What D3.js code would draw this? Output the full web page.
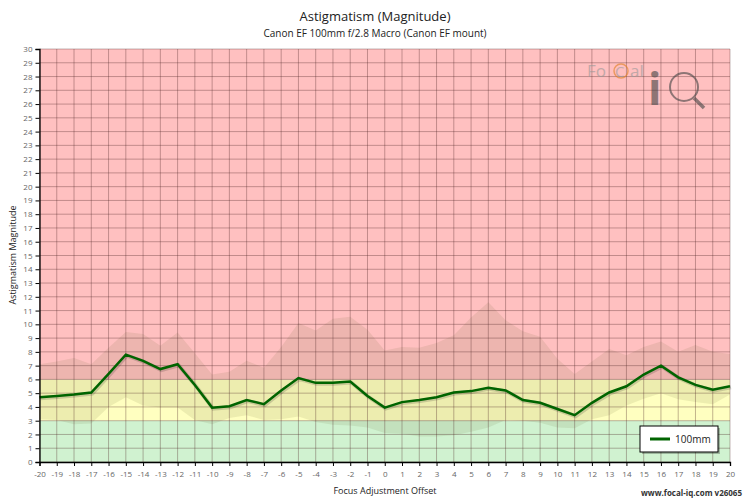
<!DOCTYPE html>
<html><head><meta charset="utf-8">
<script src="https://cdn.jsdelivr.net/npm/d3@7"></script>
<style>body{margin:0;background:#fff}text{font-family:"Open Sans",sans-serif}</style>
</head><body><svg id="c" width="750" height="500"></svg>
<script>
const offsets = d3.range(-20, 21);
const magnitude = [4.7,4.8,4.9,5.05,6.4,7.8,7.35,6.75,7.1,5.6,3.95,4.05,4.5,4.2,5.2,6.1,5.75,5.75,5.85,4.8,3.95,4.35,4.5,4.7,5.05,5.15,5.4,5.2,4.5,4.3,3.85,3.4,4.3,5.05,5.5,6.35,7.0,6.15,5.6,5.25,5.5];
const upper = [7.1,7.3,7.55,7.1,8.3,9.45,9.3,8.45,9.4,7.9,6.35,6.55,7.35,6.85,8.35,10.1,9.55,10.4,10.55,9.6,8.1,8.35,8.3,8.65,9.2,10.5,11.6,10.3,9.5,9.1,7.5,6.4,7.3,8.2,7.75,8.35,8.75,8.0,8.5,8.0,7.85];
const lower = [3.1,3.05,2.75,2.8,4.0,4.7,4.1,3.95,3.95,3.05,2.75,3.2,3.4,3.05,3.1,3.3,2.9,2.7,2.65,2.5,2.1,2.05,1.85,1.85,1.95,2.2,2.5,3.05,3.0,2.85,2.5,2.45,3.1,3.4,4.1,4.6,5.0,4.55,4.35,4.2,4.9];
const zones = [{from:0,to:3,color:"#d0f2d0"},{from:3,to:6,color:"#ffffc0"},{from:6,to:30,color:"#ffc0c0"}];
const yTicks = d3.range(0, 31);

const svg = d3.select("#c");
const L=39.5, R=730, T=49, B=462;
const x = d3.scaleLinear().domain([-20,20]).range([L,R]);
const y = d3.scaleLinear().domain([0,30]).range([B,T]);

svg.selectAll(".z").data(zones).join("rect")
  .attr("x",L).attr("width",R-L).attr("y",d=>y(d.to)).attr("height",d=>y(d.from)-y(d.to)).attr("fill",d=>d.color);

const band = offsets.map((o,i)=>({o,u:upper[i],l:lower[i]}));
svg.append("path").datum(band)
  .attr("d",d3.area().x(d=>x(d.o)).y0(d=>y(d.l)).y1(d=>y(d.u)))
  .attr("fill","rgba(90,90,40,0.11)");

const g = svg.append("g");
g.selectAll(".v").data(offsets).join("line").attr("x1",d=>x(d)).attr("x2",d=>x(d)).attr("y1",T).attr("y2",B).attr("stroke","rgba(80,40,40,0.35)").attr("stroke-width",1);
g.selectAll(".h").data(yTicks).join("line").attr("y1",d=>y(d)).attr("y2",d=>y(d)).attr("x1",L).attr("x2",R).attr("stroke","rgba(80,40,40,0.35)").attr("stroke-width",1);

// logo
const lg = svg.append("g").attr("opacity",0.6);
lg.append("text").attr("x",587).attr("y",77).attr("font-size",17).attr("fill","#999").text("Fo");
lg.append("circle").attr("cx",621).attr("cy",71).attr("r",7).attr("fill","none").attr("stroke","#e08020").attr("stroke-width",1.5);
lg.append("text").attr("x",615).attr("y",77).attr("font-size",15).attr("fill","#999").text("C");
lg.append("text").attr("x",630).attr("y",77).attr("font-size",17).attr("fill","#999").text("al");
lg.append("text").attr("x",648).attr("y",105).attr("font-size",44).attr("font-family","DejaVu Serif").attr("font-weight","bold").attr("fill","#444").text("i");
lg.append("circle").attr("cx",684).attr("cy",87).attr("r",14).attr("fill","none").attr("stroke","#444").attr("stroke-width",2);
lg.append("line").attr("x1",694).attr("y1",98).attr("x2",704).attr("y2",108).attr("stroke","#444").attr("stroke-width",3.5);

const lineData = offsets.map((o,i)=>[o,magnitude[i]]);
const lineGen = d3.line().x(d=>x(d[0])).y(d=>y(d[1]));
svg.append("path").datum(lineData).attr("d",lineGen)
  .attr("fill","none").attr("stroke","rgba(0,0,0,0.15)").attr("stroke-width",4).attr("transform","translate(1,1)");
svg.append("path").datum(lineData).attr("d",lineGen)
  .attr("fill","none").attr("stroke","#006400").attr("stroke-width",2.5);

const xa = svg.append("g").attr("transform",`translate(0,${B})`).call(d3.axisBottom(x).tickValues(offsets).tickFormat(d=>String(d)).tickSize(4));
const ya = svg.append("g").attr("transform",`translate(${L},0)`).call(d3.axisLeft(y).tickValues(yTicks).tickFormat(d=>String(d)).tickSize(4));
[xa,ya].forEach(a=>{a.selectAll("text").attr("font-size",8).attr("fill","#666").style("font-family","Open Sans");a.select(".domain").attr("stroke","#000").attr("stroke-width",1.3);a.selectAll(".tick line").attr("stroke","#000");});
xa.selectAll("text").attr("dy","1.0em");

svg.append("text").attr("x",375).attr("y",21).attr("text-anchor","middle").attr("font-size",13).attr("fill","#222").text("Astigmatism (Magnitude)");
svg.append("text").attr("x",375).attr("y",37).attr("text-anchor","middle").attr("font-size",10).attr("fill","#222").text("Canon EF 100mm f/2.8 Macro (Canon EF mount)");
svg.append("text").attr("x",385).attr("y",494).attr("text-anchor","middle").attr("font-size",9).attr("fill","#222").text("Focus Adjustment Offset");
svg.append("text").attr("transform","translate(16,255) rotate(-90)").attr("text-anchor","middle").attr("font-size",9).attr("fill","#222").text("Astigmatism Magnitude");
svg.append("text").attr("x",742).attr("y",496).attr("text-anchor","end").attr("font-size",8).attr("font-weight","bold").attr("fill","#333").text("www.focal-iq.com  v26065");

const leg = svg.append("g");
leg.append("rect").attr("x",642).attr("y",428).attr("width",78).attr("height",26).attr("fill","#000").attr("opacity",0.25);
leg.append("rect").attr("x",640).attr("y",426).attr("width",78).attr("height",26).attr("fill","#fff").attr("stroke","#000");
leg.append("line").attr("x1",650).attr("x2",670).attr("y1",439).attr("y2",439).attr("stroke","#006400").attr("stroke-width",3);
leg.append("text").attr("x",675).attr("y",443).attr("font-size",10).attr("fill","#222").text("100mm");
</script></body></html>
